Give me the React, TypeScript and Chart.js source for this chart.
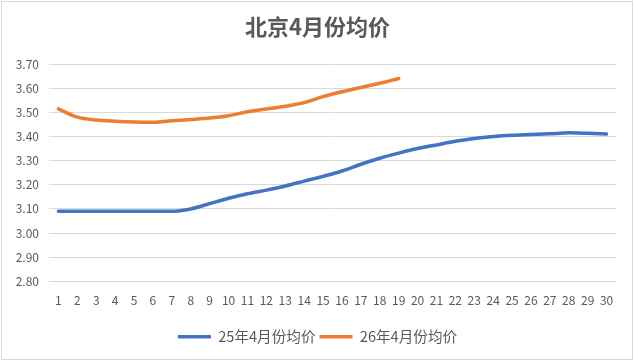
import React, { useEffect, useRef } from "react";
import { Chart, registerables } from "chart.js";

Chart.register(...registerables);

const TITLE = "北京4月份均价";
const DAYS = ["1","2","3","4","5","6","7","8","9","10","11","12","13","14","15","16","17","18","19","20","21","22","23","24","25","26","27","28","29","30"];
const SERIES_25_NAME = "25年4月份均价";
const SERIES_26_NAME = "26年4月份均价";
const PRICE_25 = [3.09,3.09,3.09,3.09,3.09,3.09,3.09,3.10,3.122,3.144,3.163,3.178,3.195,3.215,3.235,3.257,3.285,3.31,3.331,3.35,3.365,3.38,3.392,3.40,3.405,3.408,3.411,3.415,3.413,3.41];
const PRICE_26 = [3.514,3.48,3.468,3.463,3.46,3.459,3.465,3.47,3.476,3.486,3.502,3.514,3.525,3.54,3.565,3.585,3.603,3.62,3.64];
const Y_MIN = 2.8;
const Y_MAX = 3.7;
const Y_STEP = 0.1;

const FONT = "'Noto Sans CJK SC', 'Noto Sans', sans-serif";
const TEXT = "#595959";
const GRID = "#d9d9d9";

export default function App() {
  const ref = useRef<HTMLCanvasElement>(null);
  useEffect(() => {
    document.body.style.margin = "0";
    const chart = new Chart(ref.current!, {
      type: "line",
      data: {
        labels: DAYS,
        datasets: [
          {
            label: SERIES_25_NAME,
            data: PRICE_25,
            borderColor: "#4472C4",
            backgroundColor: "#4472C4",
            borderWidth: 3.5,
            pointRadius: 0,
            cubicInterpolationMode: "monotone",
            borderCapStyle: "round",
          },
          {
            label: SERIES_26_NAME,
            data: PRICE_26,
            borderColor: "#ED7D31",
            backgroundColor: "#ED7D31",
            borderWidth: 3.5,
            pointRadius: 0,
            cubicInterpolationMode: "monotone",
            borderCapStyle: "round",
          },
        ],
      },
      options: {
        animation: false,
        responsive: false,
        maintainAspectRatio: false,
        layout: { padding: { top: 8, left: 0, right: 0, bottom: 8 } },
        plugins: {
          title: {
            display: true,
            text: TITLE,
            color: TEXT,
            font: { family: FONT, size: 22, weight: "bold", lineHeight: 1.2 },
            padding: { top: 5.8, bottom: 23.8 },
          },
          legend: {
            position: "bottom",
            labels: {
              color: TEXT,
              font: { family: FONT, size: 14.6 },
              usePointStyle: true,
              pointStyle: "line",
              pointStyleWidth: 33,
              boxHeight: 3,
              padding: 4,
            },
          },
          tooltip: { enabled: false },
        },
        scales: {
          x: {
            offset: true,
            grid: { display: false, drawTicks: false },
            border: { display: false },
            ticks: {
              color: TEXT,
              font: { family: FONT, size: 12 },
              padding: 12,
              maxRotation: 0,
              autoSkip: false,
            },
            afterFit: (s: any) => { s.height = 44; },
          },
          y: {
            min: Y_MIN,
            max: Y_MAX,
            grid: { color: GRID, drawTicks: false, lineWidth: 1 },
            border: { display: false },
            ticks: {
              stepSize: Y_STEP,
              color: TEXT,
              font: { family: FONT, size: 12 },
              padding: 10,
              callback: (v: any) => Number(v).toFixed(2),
            },
            afterFit: (s: any) => { s.width = 49; },
          },
          yPad: {
            position: "right",
            display: true,
            min: Y_MIN,
            max: Y_MAX,
            grid: { display: false, drawTicks: false },
            border: { display: false },
            ticks: { display: false },
            afterFit: (s: any) => { s.width = 19; },
          },
        },
      },
    });
    return () => chart.destroy();
  }, []);
  return (
    <div style={{ position: "relative", width: 635, height: 362, background: "#fff" }}>
      <canvas ref={ref} width={635} height={362} style={{ display: "block" }} />
      <div style={{ position: "absolute", left: 1, top: 1, width: 632, height: 359, border: `1px solid ${GRID}`, boxSizing: "border-box", pointerEvents: "none" }} />
    </div>
  );
}
